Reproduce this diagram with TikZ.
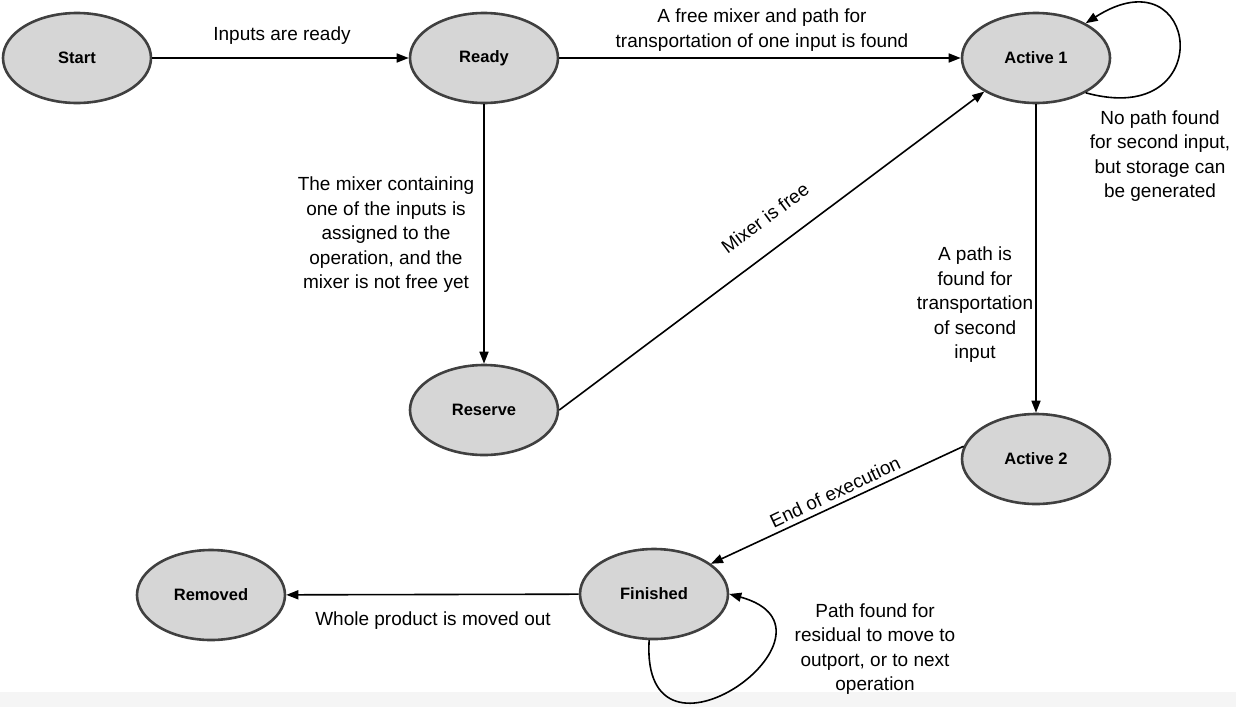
\documentclass[tikz,border=0pt]{standalone}
\usepackage{fontspec}
\setmainfont{Liberation Sans}
\usetikzlibrary{arrows.meta,shapes.geometric}
\tikzset{
  state/.style={ellipse, draw=black!75, line width=2.6pt, fill=black!16, minimum width=148pt, minimum height=90pt, inner sep=0pt, font=\fontsize{16.5}{20}\selectfont\bfseries},
  lbl/.style={font=\fontsize{19}{24.5}\selectfont, align=center, inner sep=0pt},
  arr/.style={line width=1.6pt, -{Triangle[length=12pt,width=9pt]}},
}
\begin{document}
\begin{tikzpicture}[x=1pt,y=1pt]
\useasboundingbox (0,0) rectangle (1236,-707);
\fill[black!4] (0,-692) rectangle (1236,-707);
\node[state] (S) at (77,-58) {Start};
\node[state] (R) at (484,-58) {Ready};
\node[state] (A1) at (1036,-58) {Active 1};
\node[state] (Res) at (484,-410) {Reserve};
\node[state] (A2) at (1036,-459) {Active 2};
\node[state] (F) at (654,-594) {Finished};
\node[state] (Rem) at (211,-595) {Removed};

\draw[arr] (S) -- (R);
\draw[arr] (R) -- (A1);
\draw[arr] (R) -- (Res);
\draw[arr] (Res.east) -- (A1.-147);
\draw[arr] (A1) -- (A2);
\draw[arr] (A2.170) -- (F.28);
\draw[arr] (F) -- (Rem);
\draw[arr] (A1.-35) .. controls (1220,-130) and (1200,50) .. (A1.35);
\draw[arr] (F.-96) .. controls (640,-790) and (860,-630) .. (F.east);

\node[lbl] (l1) at (282,-36) {Inputs are ready};
\node[lbl] (l2) at (762,-30) {A free mixer and path for\\transportation of one input is found};
\node[lbl] (l3) at (386,-235) {The mixer containing\\one of the inputs is\\assigned to the\\operation, and the\\mixer is not free yet};
\node[lbl, rotate=36.6] (l4) at (765,-218) {Mixer is free};
\node[lbl] (l5) at (1160,-156) {No path found\\for second input,\\but storage can\\be generated};
\node[lbl] (l6) at (975,-305) {A path is\\found for\\transportation\\of second\\input};
\node[lbl, rotate=25.3] (l7) at (835,-492) {End of execution};
\node[lbl] (l8) at (433,-621) {Whole product is moved out};
\node[lbl] (l9) at (875,-649) {Path found for\\residual to move to\\outport, or to next\\operation};
\end{tikzpicture}
\end{document}
